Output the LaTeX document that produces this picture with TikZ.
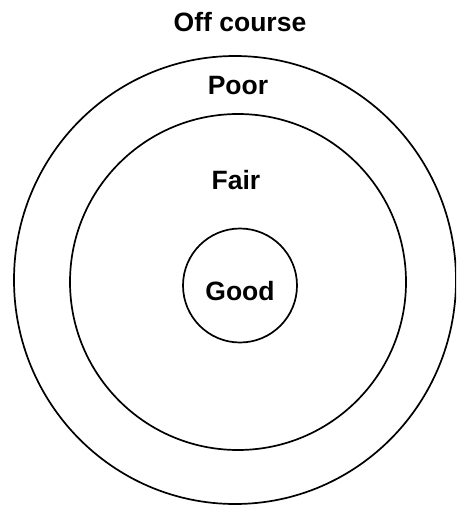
\documentclass[tikz,border=0pt]{standalone}
\usepackage{fontspec}
\setmainfont{Liberation Sans}
\usepackage{tikz}
\usetikzlibrary{positioning}

\begin{document}
\begin{tikzpicture}[x=1pt, y=-1pt,
    ring/.style={draw=black, line width=1.7pt},
    zone/.style={font=\fontsize{26.5}{30}\selectfont\bfseries, inner sep=0pt}]
  \useasboundingbox (0,0) rectangle (456,508);
  \clip (0,0) rectangle (456,508);
  % rings
  \draw[ring] (235,280) ellipse[x radius=221, y radius=224];
  \draw[ring] (238,282) circle[radius=168];
  \draw[ring] (240,285.5) circle[radius=57];
  % labels
  \node[zone] (offcourse) at (240,22.5) {Off course};
  \node[zone] (poor) at (238,86) {Poor};
  \node[zone] (fair) at (236,180) {Fair};
  \node[zone] (good) at (240,291) {Good};
\end{tikzpicture}
\end{document}
